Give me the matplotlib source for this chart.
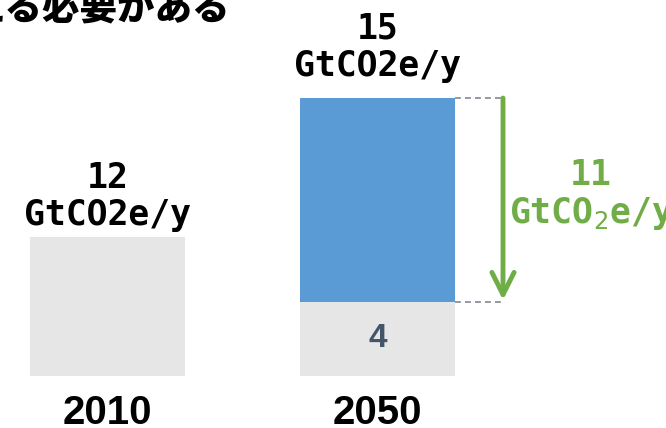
import matplotlib
matplotlib.use('Agg')

import matplotlib.pyplot as plt

# bar data (heights as drawn in the picture; the 2010 bar is not to scale)
years = ['2010', '2050']
base_values = [7.5, 4]       # grey part
cut_values = [0, 11]         # blue part (reduction)
total_labels = ['12', '15']
unit_label = 'GtCO2e/y'
cut_label = '11'
rest_label = '4'
title_tail = 'える必要がある'

GREY = '#E6E6E6'
BLUE = '#5B9BD5'
GREEN = '#70AD47'
SLATE = '#44546A'

W, H = 666, 428
fig = plt.figure(figsize=(W / 100, H / 100), dpi=100)
ax = fig.add_axes([0, 0, 1, 1])

# pixel mapping: bar centres at 107.5 px and 377.5 px, baseline 52 px from bottom
xs = 270.0   # px per category
ys = 18.53   # px per unit
ax.set_xlim(-107.5 / xs, (W - 107.5) / xs)
ax.set_ylim(-52 / ys, (H - 52) / ys)
ax.axis('off')

x = list(range(len(years)))
width = 155 / xs

ax.bar(x, base_values, width=width, color=GREY, edgecolor='none')
ax.bar(x, cut_values, width=width, bottom=base_values, color=BLUE, edgecolor='none')

label_font = dict(family='DejaVu Sans Mono', fontsize=25, fontweight='bold', color='black')
offsets = [(12, 49), (22, 60)]  # px above the bar top for unit / number
for i, yr in enumerate(years):
    top = base_values[i] + cut_values[i]
    ax.annotate(unit_label, (x[i], top), xytext=(0, offsets[i][0] * 0.72),
                textcoords='offset points', ha='center', va='baseline', **label_font)
    ax.annotate(total_labels[i], (x[i], top), xytext=(0, offsets[i][1] * 0.72),
                textcoords='offset points', ha='center', va='baseline', **label_font)
    ax.annotate(yr, (x[i], 0), xytext=(0, -48 * 0.72), textcoords='offset points',
                ha='center', va='baseline', family='Liberation Sans',
                fontsize=29, fontweight='bold', color='black')

# remaining value in the grey part of 2050
ax.text(x[1], base_values[1] / 2, rest_label, ha='center', va='center',
        family='Liberation Sans', fontsize=24, fontweight='bold', color=SLATE)

# reduction arrow with dashed guides
top2050 = base_values[1] + cut_values[1]
ax_x = x[1] + width / 2 + 48 / xs
right_edge = x[1] + width / 2
for yv in [top2050, base_values[1]]:
    ax.plot([right_edge, ax_x], [yv, yv], color='#7F8792', lw=1.2,
            linestyle=(0, (3.5, 2.5)))
ax.annotate('', xy=(ax_x, base_values[1] + 0.1), xytext=(ax_x, top2050),
            arrowprops=dict(arrowstyle='->,head_width=0.8,head_length=1.6',
                            color=GREEN, lw=3.5, shrinkA=0, shrinkB=0))

gx = ax_x + 88 / xs
gy = base_values[1] + cut_values[1] / 2
ax.annotate(cut_label, (gx, gy), xytext=(0, 15 * 0.72), textcoords='offset points',
            ha='center', va='baseline', family='DejaVu Sans Mono', fontsize=25,
            fontweight='bold', color=GREEN)
ax.annotate('GtCO$_2$e/y', (gx, gy), xytext=(0, -23 * 0.72), textcoords='offset points',
            ha='center', va='baseline', family='DejaVu Sans Mono', fontsize=25,
            fontweight='bold', color=GREEN)

# cropped title line
fig.text(230 / W, (H - 19) / H, title_tail, ha='right', va='baseline',
         family=['Noto Sans CJK JP', 'DejaVu Sans'], fontsize=27, fontweight='heavy',
         color='black')

plt.savefig('out.png', dpi=100, facecolor='white')
plt.close()
